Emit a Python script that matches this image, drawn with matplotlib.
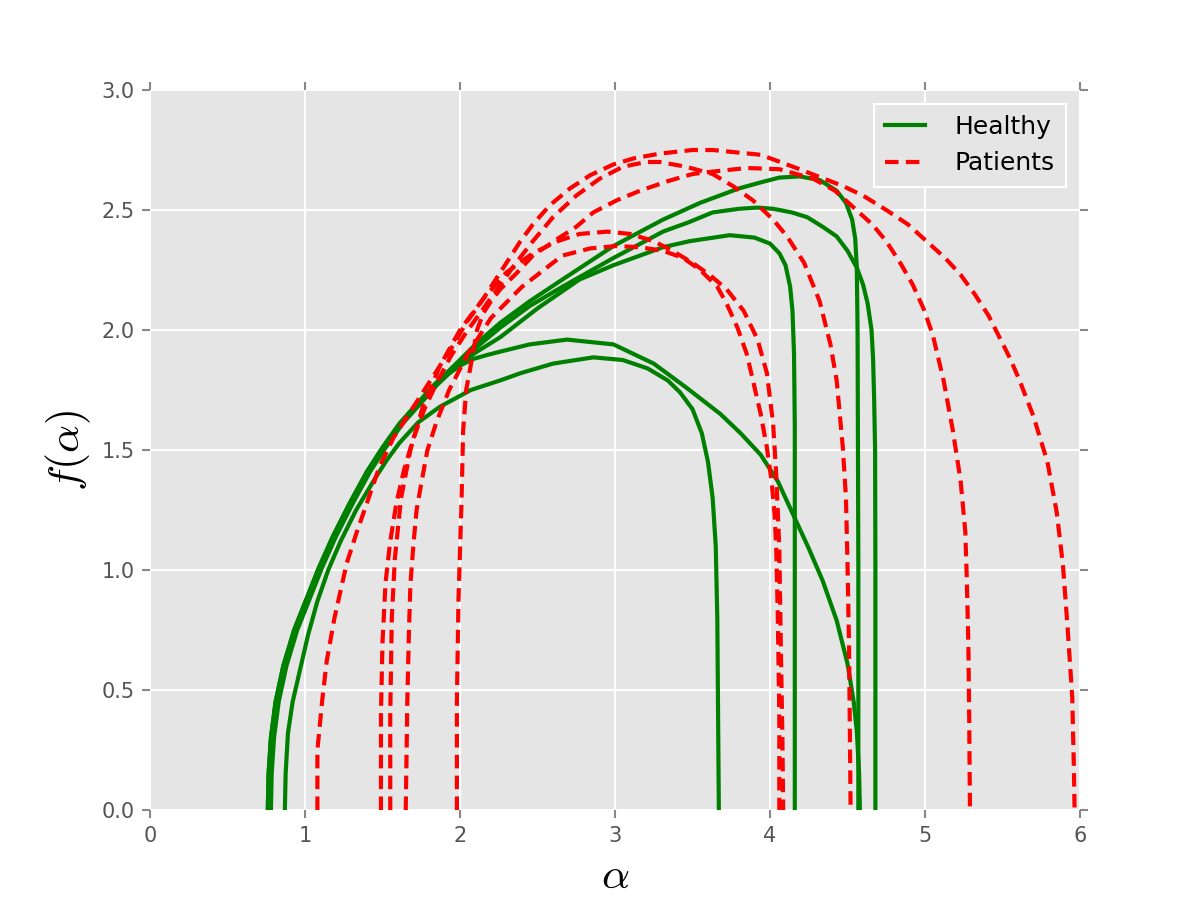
import matplotlib
matplotlib.use("Agg")
import matplotlib.pyplot as plt

# singularity spectra: (alpha, f(alpha)) per subject
# healthy subjects
h1_alpha = [0.76, 0.765, 0.78, 0.81, 0.86, 0.93, 1.01, 1.09, 1.18, 1.29, 1.40, 1.50, 1.61, 1.72, 1.83, 1.96, 2.10, 2.26, 2.45, 2.66, 2.99, 3.31, 3.55, 3.80, 3.94, 4.06, 4.19, 4.32, 4.43, 4.49, 4.53, 4.55, 4.56, 4.565, 4.57, 4.57]
h1_f = [0.00, 0.15, 0.30, 0.45, 0.60, 0.75, 0.88, 1.01, 1.14, 1.28, 1.41, 1.51, 1.61, 1.69, 1.77, 1.85, 1.94, 2.03, 2.12, 2.21, 2.35, 2.46, 2.53, 2.59, 2.615, 2.635, 2.64, 2.625, 2.58, 2.53, 2.46, 2.38, 2.26, 2.00, 1.00, 0.00]

h2_alpha = [0.77, 0.775, 0.79, 0.82, 0.87, 0.94, 1.02, 1.10, 1.19, 1.30, 1.41, 1.51, 1.62, 1.73, 1.84, 1.97, 2.11, 2.26, 2.45, 2.66, 2.99, 3.31, 3.48, 3.63, 3.80, 3.92, 4.02, 4.14, 4.24, 4.34, 4.43, 4.50, 4.56, 4.60, 4.63, 4.655, 4.665, 4.672, 4.678, 4.68, 4.68]
h2_f = [0.00, 0.15, 0.30, 0.45, 0.60, 0.75, 0.88, 1.01, 1.14, 1.28, 1.41, 1.51, 1.61, 1.69, 1.77, 1.85, 1.93, 2.01, 2.10, 2.18, 2.30, 2.41, 2.45, 2.49, 2.505, 2.51, 2.505, 2.49, 2.47, 2.43, 2.39, 2.33, 2.26, 2.19, 2.11, 2.00, 1.88, 1.71, 1.50, 1.00, 0.00]

h3_alpha = [0.78, 0.785, 0.80, 0.83, 0.88, 0.95, 1.03, 1.11, 1.20, 1.31, 1.42, 1.52, 1.63, 1.74, 1.85, 1.98, 2.11, 2.26, 2.50, 2.77, 2.99, 3.31, 3.48, 3.74, 3.90, 4.00, 4.06, 4.10, 4.13, 4.145, 4.155, 4.16, 4.16]
h3_f = [0.00, 0.15, 0.30, 0.45, 0.60, 0.75, 0.88, 1.01, 1.14, 1.28, 1.41, 1.51, 1.61, 1.69, 1.77, 1.85, 1.91, 1.97, 2.09, 2.21, 2.27, 2.345, 2.37, 2.395, 2.385, 2.36, 2.32, 2.27, 2.18, 2.08, 1.90, 1.60, 0.00]

h4_alpha = [0.76, 0.765, 0.78, 0.81, 0.86, 0.93, 1.01, 1.09, 1.18, 1.29, 1.40, 1.50, 1.61, 1.72, 1.83, 1.92, 2.01, 2.09, 2.17, 2.26, 2.45, 2.69, 2.99, 3.25, 3.46, 3.68, 3.81, 3.94, 4.05, 4.15, 4.25, 4.34, 4.43, 4.50, 4.54, 4.56, 4.575, 4.58]
h4_f = [0.00, 0.15, 0.30, 0.45, 0.60, 0.75, 0.88, 1.01, 1.14, 1.28, 1.41, 1.51, 1.61, 1.69, 1.765, 1.815, 1.855, 1.88, 1.895, 1.91, 1.94, 1.96, 1.94, 1.86, 1.76, 1.65, 1.57, 1.48, 1.37, 1.23, 1.09, 0.955, 0.79, 0.61, 0.45, 0.33, 0.15, 0.00]

h5_alpha = [0.87, 0.875, 0.89, 0.92, 0.97, 1.02, 1.08, 1.15, 1.23, 1.33, 1.46, 1.53, 1.61, 1.73, 1.87, 2.07, 2.26, 2.39, 2.60, 2.86, 3.05, 3.21, 3.34, 3.42, 3.50, 3.56, 3.60, 3.63, 3.65, 3.66, 3.665, 3.67]
h5_f = [0.00, 0.15, 0.32, 0.45, 0.59, 0.73, 0.87, 1.00, 1.12, 1.25, 1.39, 1.46, 1.53, 1.615, 1.68, 1.75, 1.79, 1.82, 1.86, 1.886, 1.875, 1.84, 1.79, 1.74, 1.67, 1.57, 1.45, 1.30, 1.10, 0.80, 0.40, 0.00]

# patients
p1_alpha = [1.08, 1.08, 1.11, 1.14, 1.19, 1.27, 1.33, 1.40, 1.48, 1.57, 1.68, 1.79, 1.87, 1.96, 2.04, 2.13, 2.21, 2.30, 2.39, 2.47, 2.58, 2.71, 2.84, 2.99, 3.12, 3.29, 3.50, 3.63, 3.94, 4.15, 4.47, 4.60, 4.75, 4.89, 5.01, 5.13, 5.23, 5.32, 5.41, 5.48, 5.55, 5.61, 5.70, 5.79, 5.85, 5.89, 5.92, 5.95, 5.96, 5.965]
p1_f = [0.00, 0.25, 0.45, 0.62, 0.80, 1.03, 1.15, 1.28, 1.43, 1.55, 1.66, 1.77, 1.85, 1.94, 2.03, 2.11, 2.19, 2.28, 2.37, 2.44, 2.52, 2.59, 2.645, 2.69, 2.715, 2.735, 2.75, 2.75, 2.73, 2.68, 2.60, 2.56, 2.50, 2.44, 2.37, 2.30, 2.23, 2.15, 2.06, 1.97, 1.88, 1.79, 1.64, 1.45, 1.24, 1.02, 0.76, 0.47, 0.19, 0.00]

p2_alpha = [1.98, 1.98, 1.99, 2.01, 2.02, 2.04, 2.08, 2.11, 2.15, 2.20, 2.26, 2.37, 2.47, 2.63, 2.75, 2.86, 3.01, 3.16, 3.34, 3.50, 3.63, 3.85, 4.06, 4.28, 4.42, 4.54, 4.66, 4.75, 4.84, 4.92, 4.99, 5.05, 5.12, 5.18, 5.23, 5.26, 5.27, 5.28, 5.285, 5.29]
p2_f = [0.00, 0.45, 0.87, 1.29, 1.58, 1.75, 1.89, 2.00, 2.07, 2.12, 2.17, 2.24, 2.31, 2.38, 2.43, 2.49, 2.54, 2.58, 2.62, 2.65, 2.66, 2.675, 2.67, 2.63, 2.58, 2.51, 2.44, 2.37, 2.28, 2.19, 2.09, 1.98, 1.79, 1.58, 1.37, 1.16, 0.955, 0.68, 0.40, 0.00]

p3_alpha = [1.49, 1.49, 1.50, 1.52, 1.55, 1.59, 1.64, 1.70, 1.77, 1.85, 1.94, 2.04, 2.14, 2.24, 2.35, 2.47, 2.60, 2.75, 2.90, 3.05, 3.20, 3.29, 3.46, 3.63, 3.76, 3.89, 4.02, 4.11, 4.22, 4.32, 4.39, 4.43, 4.47, 4.49, 4.50, 4.51, 4.52]
p3_f = [0.00, 0.40, 0.70, 0.95, 1.12, 1.28, 1.42, 1.55, 1.67, 1.78, 1.89, 1.99, 2.08, 2.17, 2.27, 2.37, 2.47, 2.56, 2.63, 2.68, 2.70, 2.70, 2.68, 2.65, 2.60, 2.54, 2.46, 2.39, 2.28, 2.12, 1.94, 1.79, 1.51, 1.30, 1.03, 0.68, 0.00]

p4_alpha = [1.55, 1.55, 1.56, 1.58, 1.62, 1.68, 1.76, 1.87, 2.00, 2.15, 2.30, 2.47, 2.63, 2.77, 2.95, 3.10, 3.25, 3.37, 3.50, 3.61, 3.72, 3.83, 3.92, 3.98, 4.02, 4.04, 4.06, 4.07, 4.08, 4.085]
p4_f = [0.00, 0.40, 0.80, 1.05, 1.30, 1.50, 1.68, 1.85, 2.00, 2.13, 2.24, 2.32, 2.37, 2.40, 2.41, 2.40, 2.37, 2.33, 2.28, 2.23, 2.17, 2.08, 1.96, 1.82, 1.61, 1.40, 1.09, 0.68, 0.30, 0.00]

p5_alpha = [1.65, 1.66, 1.67, 1.68, 1.70, 1.72, 1.75, 1.79, 1.85, 1.93, 2.05, 2.20, 2.40, 2.66, 2.84, 3.01, 3.16, 3.31, 3.44, 3.55, 3.66, 3.72, 3.79, 3.85, 3.89, 3.94, 3.98, 4.01, 4.03, 4.04, 4.05, 4.06, 4.06]
p5_f = [0.00, 0.45, 0.73, 0.94, 1.11, 1.25, 1.36, 1.50, 1.62, 1.75, 1.90, 2.05, 2.18, 2.31, 2.34, 2.35, 2.345, 2.33, 2.30, 2.25, 2.18, 2.11, 2.01, 1.90, 1.79, 1.65, 1.51, 1.37, 1.23, 1.09, 0.82, 0.40, 0.00]

healthy = [(h1_alpha, h1_f), (h2_alpha, h2_f), (h3_alpha, h3_f), (h4_alpha, h4_f), (h5_alpha, h5_f)]
patients = [(p1_alpha, p1_f), (p2_alpha, p2_f), (p3_alpha, p3_f), (p4_alpha, p4_f), (p5_alpha, p5_f)]

plt.rcParams['lines.scale_dashes'] = False
plt.rcParams['axes.facecolor'] = '#E5E5E5'
plt.rcParams['mathtext.fontset'] = 'cm'

fig, ax = plt.subplots(figsize=(8, 6), dpi=150)
fig.subplots_adjust(left=0.125, right=0.9, bottom=0.1, top=0.9)

for i, (a, f) in enumerate(healthy):
    ax.plot(a, f, color='green', lw=2, label='Healthy' if i == 0 else None)
for i, (a, f) in enumerate(patients):
    ax.plot(a, f, color='red', lw=2, linestyle='--', dashes=(6.5, 3.5),
            label='Patients' if i == 0 else None)

ax.set_xlim(0, 6)
ax.set_ylim(0, 3)
ax.set_yticks([0, 0.5, 1.0, 1.5, 2.0, 2.5, 3.0])
ax.set_yticklabels(['0.0', '0.5', '1.0', '1.5', '2.0', '2.5', '3.0'])
ax.grid(True, color='white', lw=1, ls='-')
ax.set_axisbelow(True)
for s in ax.spines.values():
    s.set_visible(False)
ax.tick_params(direction='out', length=4, width=1, color='#888888',
               labelcolor='#555555', labelsize=10, top=True, right=True)

ax.set_xlabel(r'$\alpha$', fontsize=21)
ax.set_ylabel(r'$f(\alpha)$', fontsize=21)

leg = ax.legend(loc='upper right', fontsize=12, facecolor='#E5E5E5',
                edgecolor='white', fancybox=False, framealpha=1,
                handlelength=1.6, handletextpad=1.2, borderpad=0.45,
                borderaxespad=0.55)
leg.get_frame().set_linewidth(1)

fig.savefig('out.png', dpi=150)
